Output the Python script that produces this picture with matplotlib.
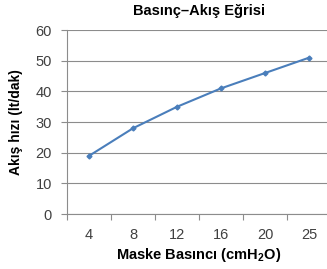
import numpy as np
import matplotlib
matplotlib.use("Agg")
import matplotlib.pyplot as plt

plt.rcParams['font.family'] = ['Liberation Sans', 'DejaVu Sans']

# data
pressure_labels = ['4', '8', '12', '16', '20', '25']
flow_rate = [19, 28, 35, 41, 46, 51]
y_ticks = [0, 10, 20, 30, 40, 50, 60]

fig = plt.figure(figsize=(3.27, 2.69), dpi=100)
ax = fig.add_axes([0.205, 0.204, 0.807, 0.684])

x = np.arange(len(flow_rate))
ax.plot(x, flow_rate, color='#4A7EBB', linewidth=1.5, marker='D', markersize=2.5,
        zorder=3, clip_on=False)

ax.set_xlim(-0.5, len(flow_rate) - 0.5)
ax.set_ylim(0, 60)
ax.set_yticks(y_ticks)
ax.set_xticks(x)
ax.set_xticklabels(pressure_labels)
ax.set_xticks(np.arange(-0.5, len(flow_rate), 1), minor=True)

ax.grid(axis='y', color='#8C8C8C', linewidth=0.8)
ax.set_axisbelow(True)
for s in ['top', 'right']:
    ax.spines[s].set_visible(False)
for s in ['left', 'bottom']:
    ax.spines[s].set_color('#8C8C8C')
    ax.spines[s].set_linewidth(0.8)

ax.tick_params(axis='y', which='major', length=4, color='#8C8C8C', width=0.8,
               labelsize=10.5, labelcolor='#404040', pad=7)
ax.tick_params(axis='x', which='major', length=0, labelsize=10.5,
               labelcolor='#404040', pad=10)
ax.tick_params(axis='x', which='minor', length=4, color='#8C8C8C', width=0.8)

ax.set_title('Basınç–Akış Eğrisi', fontsize=10.5, fontweight='bold', pad=11,
             x=0.5)
ax.set_xlabel('Maske Basıncı (cmH$_\\mathregular{2}$O)', fontsize=10.5,
              fontweight='bold', labelpad=3)
ax.set_ylabel('Akış hızı (lt/dak)', fontsize=10, fontweight='bold', labelpad=9)

fig.savefig('out.png', dpi=100)
